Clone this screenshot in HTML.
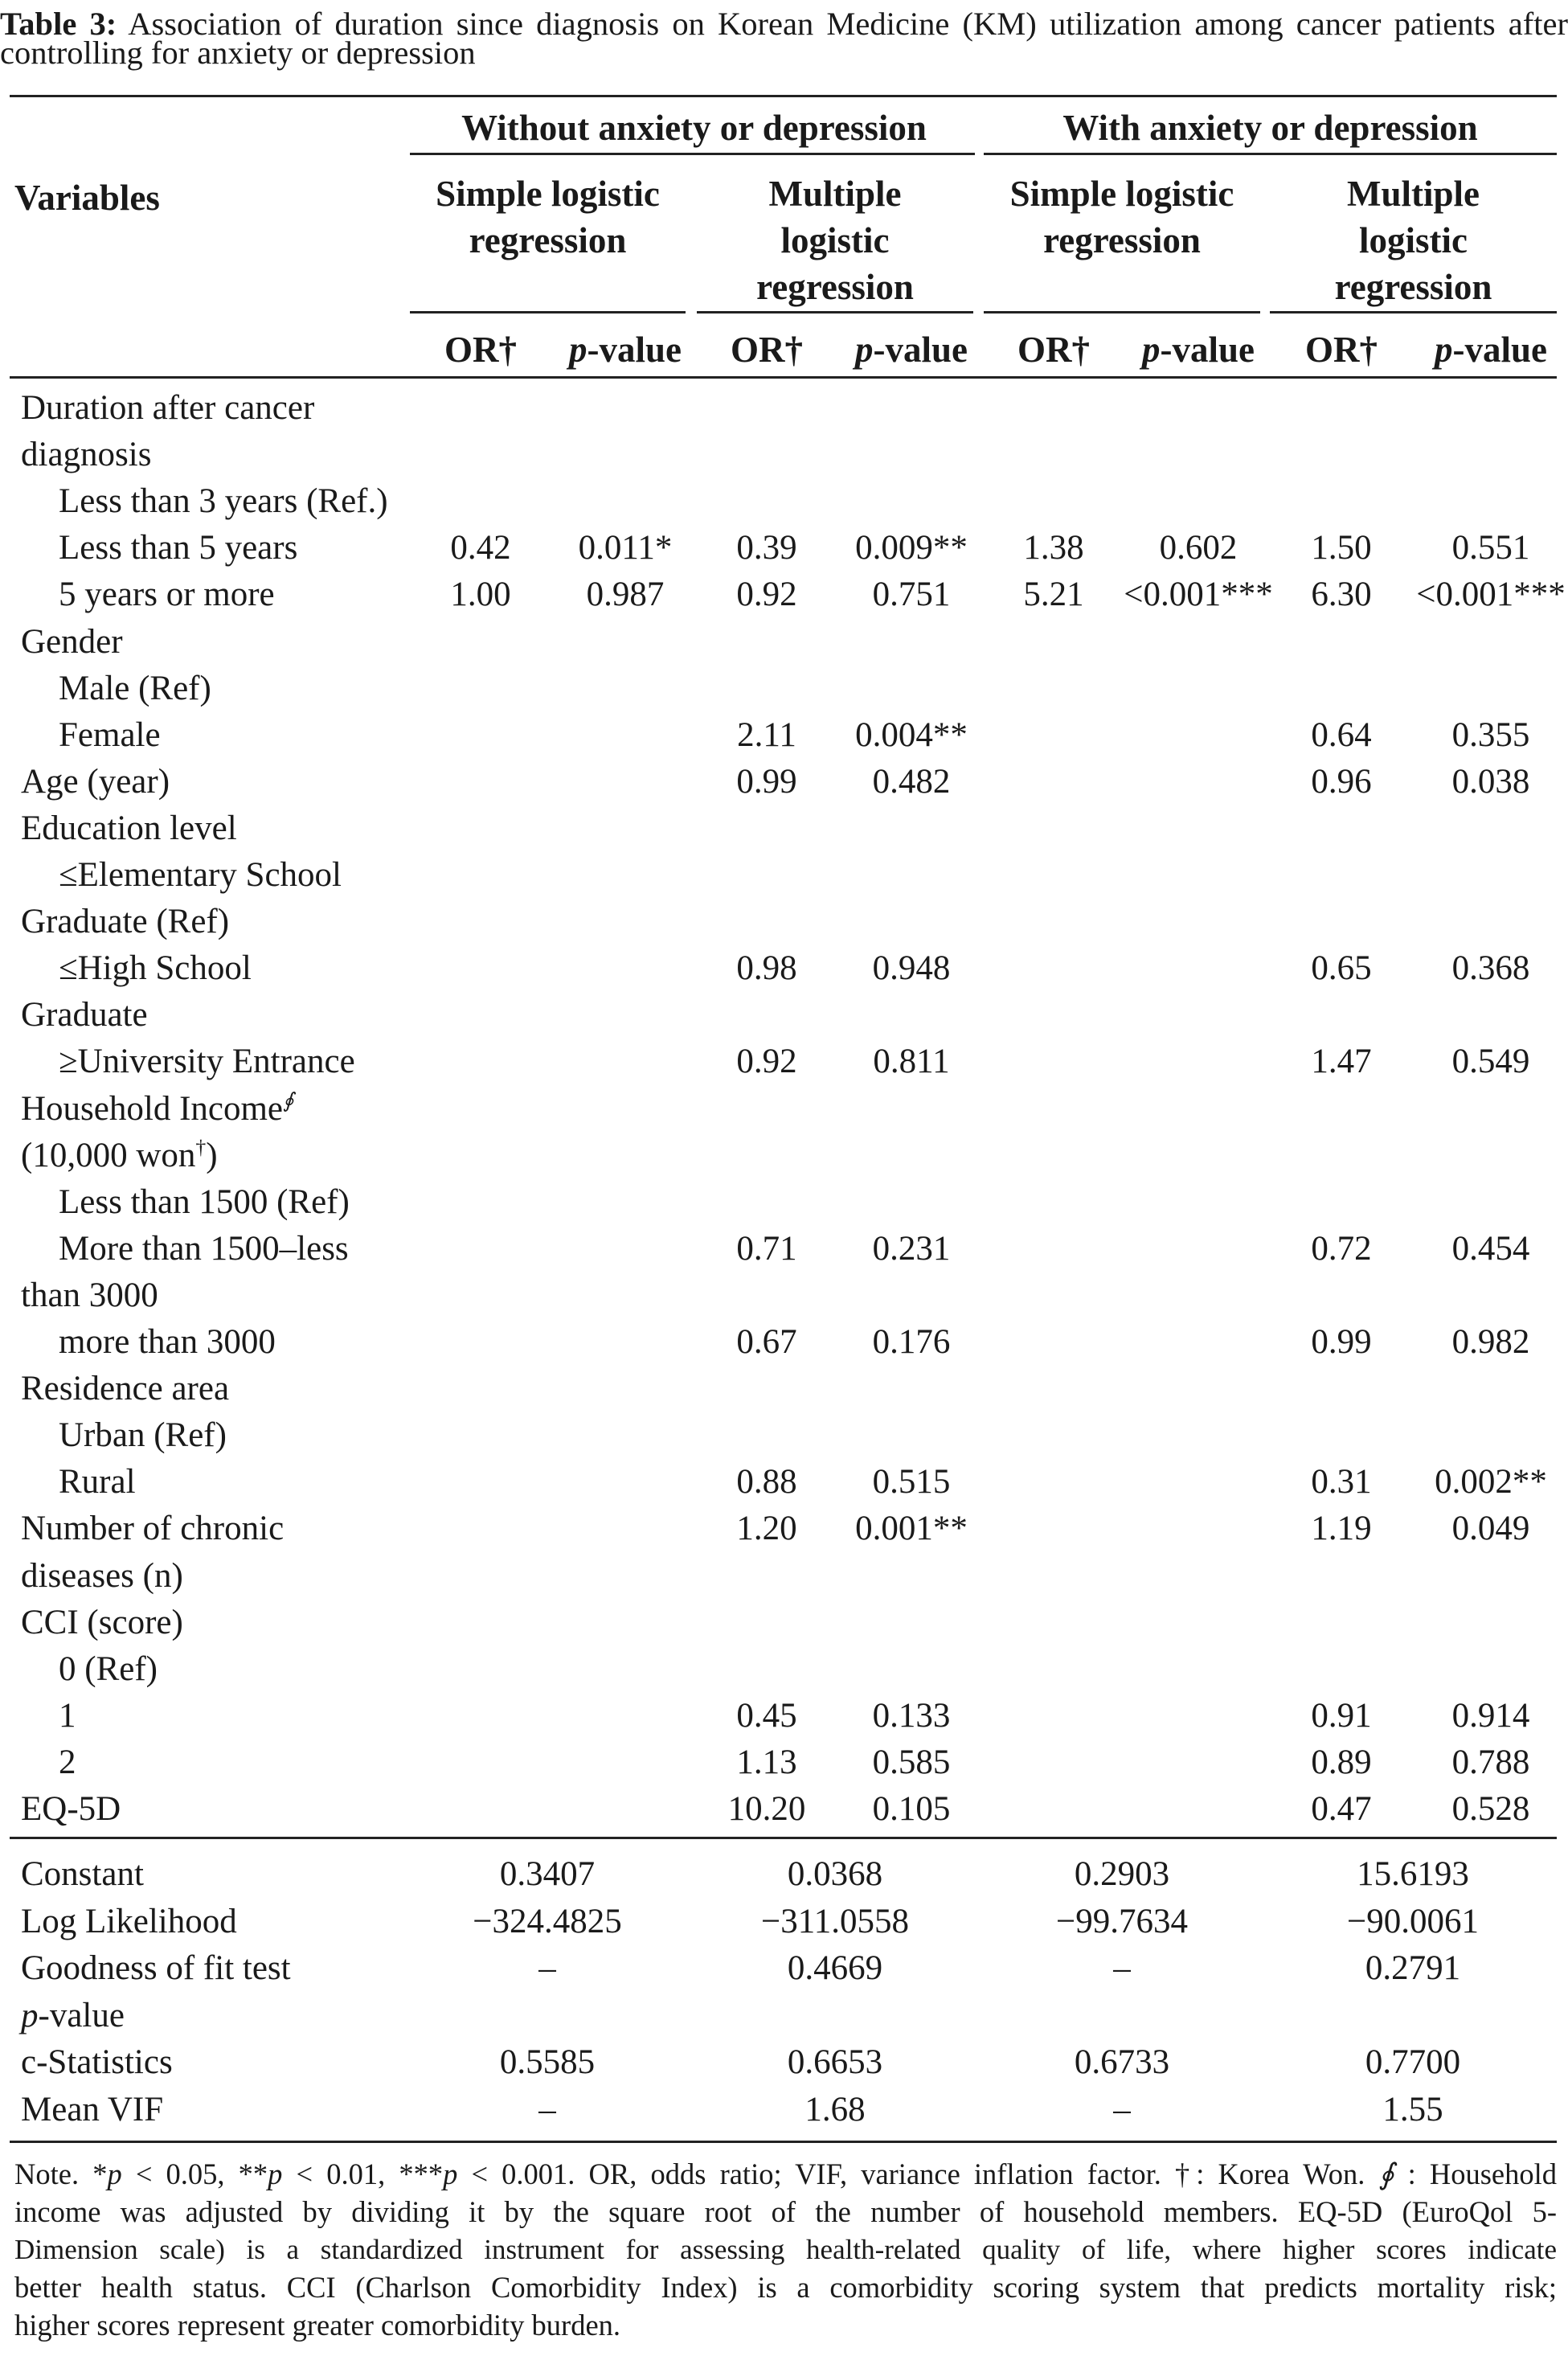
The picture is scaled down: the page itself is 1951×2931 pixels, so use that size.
<!DOCTYPE html>
<html><head><meta charset="utf-8">
<style>
html,body{margin:0;padding:0;background:#fff;}
body{width:1951px;height:2931px;position:relative;overflow:hidden;font-family:"Liberation Serif",serif;color:#1a1a1a;}
.a{position:absolute;white-space:nowrap;}
.r{position:absolute;height:58px;line-height:58px;font-size:43px;white-space:nowrap;}
.c{position:absolute;width:300px;text-align:center;}
.h{position:absolute;height:2px;background:#222;}
.cap{position:absolute;left:0;width:1951px;font-size:40.5px;line-height:36px;text-align:justify;text-align-last:left;}
.nl{position:absolute;left:18px;width:1919px;font-size:36.5px;line-height:47px;height:47px;text-align:justify;text-align-last:justify;white-space:nowrap;overflow:visible;}
b{font-weight:bold;}
sup{font-size:60%;line-height:0;}
</style></head><body>
<div class="cap" style="top:12px;"><b>Table 3:</b> Association of duration since diagnosis on Korean Medicine (KM) utilization among cancer patients after controlling for anxiety or depression</div>

<div class="h" style="left:12px;width:1925px;top:118px;height:3px;"></div>
<div class="h" style="left:510px;width:703px;top:190px;height:3px;"></div>
<div class="h" style="left:1224px;width:713px;top:190px;height:3px;"></div>
<div class="h" style="left:510px;width:343px;top:387px;height:3px;"></div>
<div class="h" style="left:867px;width:344px;top:387px;height:3px;"></div>
<div class="h" style="left:1224px;width:344px;top:387px;height:3px;"></div>
<div class="h" style="left:1580px;width:357px;top:387px;height:3px;"></div>
<div class="h" style="left:12px;width:1925px;top:468px;height:3px;"></div>
<div class="h" style="left:12px;width:1925px;top:2285px;height:3px;"></div>
<div class="h" style="left:12px;width:1925px;top:2663px;height:3px;"></div>

<div style="font-weight:bold;font-size:45px;">
<div class="a" style="left:512px;width:703px;text-align:center;top:133px;">Without anxiety or depression</div>
<div class="a" style="left:1224px;width:713px;text-align:center;top:133px;">With anxiety or depression</div>
<div class="a" style="left:18px;top:220px;">Variables</div>
<div class="a" style="left:510px;width:343px;text-align:center;top:212px;line-height:58px;white-space:normal;">Simple logistic<br>regression</div>
<div class="a" style="left:867px;width:344px;text-align:center;top:212px;line-height:58px;white-space:normal;">Multiple<br>logistic<br>regression</div>
<div class="a" style="left:1224px;width:344px;text-align:center;top:212px;line-height:58px;white-space:normal;">Simple logistic<br>regression</div>
<div class="a" style="left:1580px;width:357px;text-align:center;top:212px;line-height:58px;white-space:normal;">Multiple<br>logistic<br>regression</div>
<div class="r" style="top:406px;left:0;width:1951px;font-size:45px;">
<span class="c" style="left:448px;">OR†</span><span class="c" style="left:628px;"><i>p</i>-value</span>
<span class="c" style="left:804px;">OR†</span><span class="c" style="left:984px;"><i>p</i>-value</span>
<span class="c" style="left:1161px;">OR†</span><span class="c" style="left:1341px;"><i>p</i>-value</span>
<span class="c" style="left:1519px;">OR†</span><span class="c" style="left:1705px;"><i>p</i>-value</span>
</div>
</div>

<div id="rows"></div>
<script>
var C=[598,778,954,1134,1311,1491,1669,1855];
var R=[
[0,"Duration after cancer"],[0,"diagnosis"],[1,"Less than 3 years (Ref.)"],
[1,"Less than 5 years",["0.42","0.011*","0.39","0.009**","1.38","0.602","1.50","0.551"]],
[1,"5 years or more",["1.00","0.987","0.92","0.751","5.21","<0.001***","6.30","<0.001***"]],
[0,"Gender"],[1,"Male (Ref)"],
[1,"Female",["","","2.11","0.004**","","","0.64","0.355"]],
[0,"Age (year)",["","","0.99","0.482","","","0.96","0.038"]],
[0,"Education level"],[1,"≤Elementary School"],[0,"Graduate (Ref)"],
[1,"≤High School",["","","0.98","0.948","","","0.65","0.368"]],
[0,"Graduate"],
[1,"≥University Entrance",["","","0.92","0.811","","","1.47","0.549"]],
[0,"Household Income<sup><i>∮</i></sup>"],[0,"(10,000 won<sup>†</sup>)"],
[1,"Less than 1500 (Ref)"],
[1,"More than 1500–less",["","","0.71","0.231","","","0.72","0.454"]],
[0,"than 3000"],
[1,"more than 3000",["","","0.67","0.176","","","0.99","0.982"]],
[0,"Residence area"],[1,"Urban (Ref)"],
[1,"Rural",["","","0.88","0.515","","","0.31","0.002**"]],
[0,"Number of chronic",["","","1.20","0.001**","","","1.19","0.049"]],
[0,"diseases (n)"],[0,"CCI (score)"],[1,"0 (Ref)"],
[1,"1",["","","0.45","0.133","","","0.91","0.914"]],
[1,"2",["","","1.13","0.585","","","0.89","0.788"]],
[0,"EQ-5D",["","","10.20","0.105","","","0.47","0.528"]]
];
var h="";
function esc(s){return s.replace(/</g,"&lt;");}
R.forEach(function(r,i){
 var y=508+i*58.1-29;
 h+='<div class="r" style="top:'+y+'px;left:0;width:1951px;"><span class="a" style="left:'+(r[0]?73:26)+'px;">'+r[1]+'</span>';
 if(r[2]) r[2].forEach(function(v,j){ if(v) h+='<span class="c" style="left:'+(C[j]-150)+'px;">'+esc(v)+'</span>';});
 h+='</div>';
});
var G=[681,1039,1396,1758];
var B=[["Constant",["0.3407","0.0368","0.2903","15.6193"]],
["Log Likelihood",["−324.4825","−311.0558","−99.7634","−90.0061"]],
["Goodness of fit test",["–","0.4669","–","0.2791"]],
["<i>p</i>-value",null],
["c-Statistics",["0.5585","0.6653","0.6733","0.7700"]],
["Mean VIF",["–","1.68","–","1.55"]]];
B.forEach(function(r,i){
 var y=2332+i*58.6-29;
 h+='<div class="r" style="top:'+y+'px;left:0;width:1951px;"><span class="a" style="left:26px;">'+r[0]+'</span>';
 if(r[1]) r[1].forEach(function(v,j){h+='<span class="c" style="left:'+(G[j]-150)+'px;">'+v+'</span>';});
 h+='</div>';
});
document.getElementById("rows").innerHTML=h;
</script>

<div class="nl" style="top:2681px;white-space:normal;">Note. *<i>p</i> &lt; 0.05, **<i>p</i> &lt; 0.01, ***<i>p</i> &lt; 0.001. OR, odds ratio; VIF, variance inflation factor. †: Korea Won. <i>∮</i> : Household</div>
<div class="nl" style="top:2728px;white-space:normal;">income was adjusted by dividing it by the square root of the number of household members. EQ-5D (EuroQol 5-</div>
<div class="nl" style="top:2775px;white-space:normal;font-size:35px;">Dimension scale) is a standardized instrument for assessing health-related quality of life, where higher scores indicate</div>
<div class="nl" style="top:2822px;white-space:normal;">better health status. CCI (Charlson Comorbidity Index) is a comorbidity scoring system that predicts mortality risk;</div>
<div class="nl" style="top:2869px;text-align-last:left;">higher scores represent greater comorbidity burden.</div>
</body></html>
